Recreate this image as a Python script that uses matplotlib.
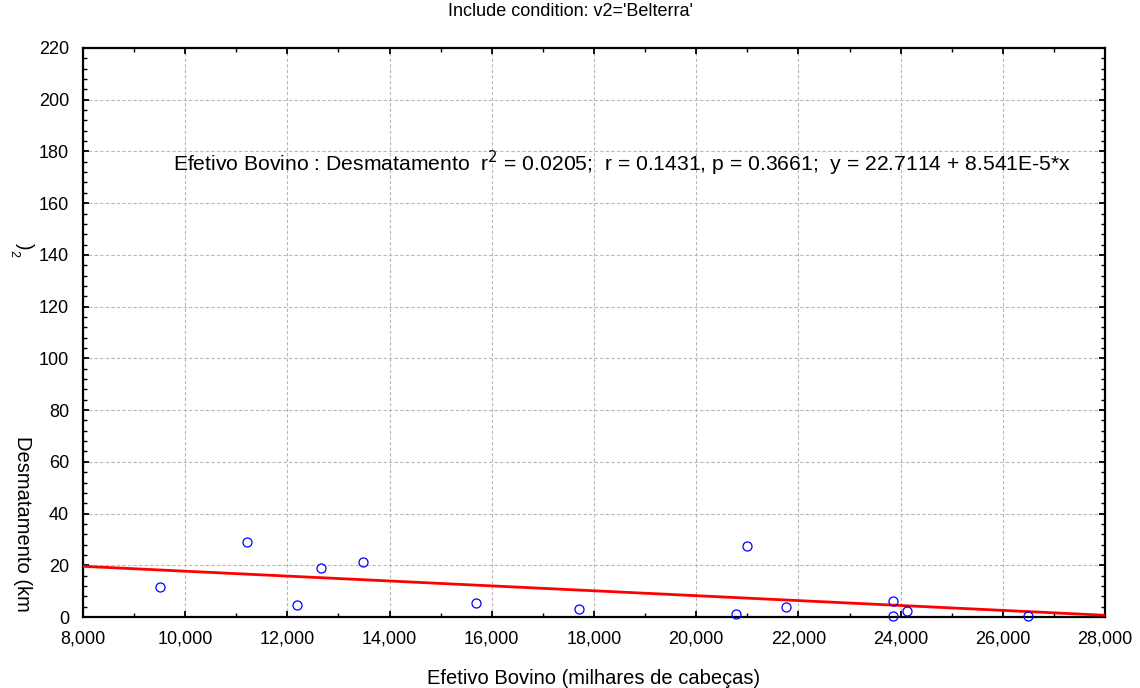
import numpy as np
import matplotlib.pyplot as plt
from matplotlib.ticker import MultipleLocator, FuncFormatter
from matplotlib import font_manager

# Belterra: cattle herd vs deforested area
efetivo = [9501, 11204, 12183, 12666, 13488, 15700, 17716,
           20770, 21000, 21757, 23851, 23851, 24128, 26500]
desmat = [11.6, 29.1, 4.5, 18.8, 21.2, 5.3, 3.0,
          1.3, 27.6, 3.8, 6.2, 0.5, 2.2, 0.5]

# regression line as plotted
fit_intercept = 27.18
fit_slope = -9.47e-4
x_range = [8000, 28000]

names = {f.name for f in font_manager.fontManager.ttflist}
base_font = 'Liberation Sans' if 'Liberation Sans' in names else 'DejaVu Sans'
plt.rcParams['font.family'] = [base_font, 'DejaVu Sans']

fig = plt.figure(figsize=(11.4, 6.88), dpi=100)
ax = fig.add_axes([83 / 1140, 1 - 617 / 688, 1022 / 1140, 569 / 688])

ax.grid(True, which='major', color='#b8b8b8', linestyle=(0, (3, 2)), linewidth=0.8)
ax.set_axisbelow(True)

xs = np.array(x_range)
ax.plot(xs, fit_intercept + fit_slope * xs, color='red', linewidth=2, zorder=3)
ax.plot(efetivo, desmat, 'o', markerfacecolor='none', markeredgecolor='blue',
        markersize=6.5, markeredgewidth=0.9, zorder=4, clip_on=False)

ax.set_xlim(*x_range)
ax.set_ylim(0, 220)
ax.xaxis.set_major_locator(MultipleLocator(2000))
ax.xaxis.set_minor_locator(MultipleLocator(1000))
ax.yaxis.set_major_locator(MultipleLocator(20))
ax.yaxis.set_minor_locator(MultipleLocator(4))
ax.xaxis.set_major_formatter(FuncFormatter(lambda v, p: f'{v:,.0f}'))

for s in ax.spines.values():
    s.set_linewidth(1.6)
    s.set_color('black')
ax.tick_params(which='both', direction='in', top=True, right=True, labelsize=13)
ax.tick_params(which='major', length=4, width=1.3, pad=10)
ax.tick_params(which='minor', length=3, width=1.0)

ax.text(0.088, 0.798,
        'Efetivo Bovino : Desmatamento  r$^2$ = 0.0205;  r = 0.1431, p = 0.3661;  y = 22.7114 + 8.541E-5*x',
        transform=ax.transAxes, ha='left', va='center', fontsize=15.2)

fig.text(0.5, 1 - 11 / 688, "Include condition: v2='Belterra'",
         ha='center', va='center', fontsize=13)
fig.text(594 / 1140, 1 - 679 / 688, 'Efetivo Bovino (milhares de cabeças)',
         ha='center', va='center', fontsize=14.5)

fig.text(22 / 1140, 1 - 524 / 688, 'Desmatamento (km', rotation=270,
         ha='center', va='center', fontsize=14.5)
fig.text(13 / 1140, 1 - 254 / 688, '2', rotation=270,
         ha='center', va='center', fontsize=9)
fig.text(24 / 1140, 1 - 246 / 688, ')', rotation=270,
         ha='center', va='center', fontsize=14.5)

fig.savefig('out.png', dpi=100)
